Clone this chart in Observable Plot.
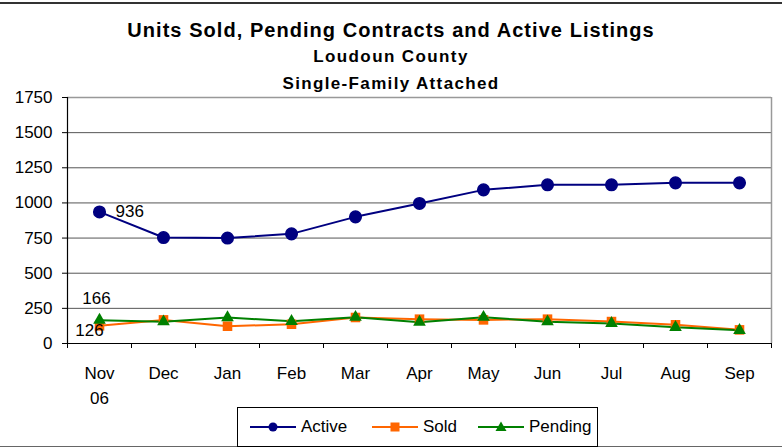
<!DOCTYPE html>
<html><head><meta charset="utf-8">
<script src="https://cdn.jsdelivr.net/npm/d3@7"></script>
<script src="https://cdn.jsdelivr.net/npm/@observablehq/plot@0.6"></script>
<style>
body{margin:0;background:#fff;font-family:"Liberation Sans",Arial,sans-serif;}
#wrap{position:relative;width:782px;height:447px;overflow:hidden;background:#fff;}
.t{position:absolute;left:0;width:782px;text-align:center;font-weight:bold;color:#000;white-space:nowrap;line-height:1;}
#t1{top:20px;font-size:20px;letter-spacing:1.05px;}
#t2{top:48px;font-size:17px;letter-spacing:1.4px;}
#t3{top:75px;font-size:17px;letter-spacing:1.35px;}
#chart{position:absolute;left:0;top:90px;}
#topline{position:absolute;left:0;top:2px;width:782px;height:2px;background:#333;}
#botline{position:absolute;left:0;top:446px;width:782px;height:1px;background:#666;}
#legend{position:absolute;left:237px;top:407px;width:359px;height:38px;border:1px solid #000;background:#fff;}
#legend .it{position:absolute;top:0;height:38px;display:flex;align-items:center;font-size:17px;color:#000;}
</style></head>
<body><div id="wrap">
<div id="topline"></div>
<div class="t" id="t1">Units Sold, Pending Contracts and Active Listings</div>
<div class="t" id="t2">Loudoun County</div>
<div class="t" id="t3">Single-Family Attached</div>
<div id="chart"></div>
<div id="botline"></div>
<div id="legend"></div>
</div>
<script>
const months = ["Nov","Dec","Jan","Feb","Mar","Apr","May","Jun","Jul","Aug","Sep"];
const monthLabels = ["Nov\n06","Dec","Jan","Feb","Mar","Apr","May","Jun","Jul","Aug","Sep"];
const active  = [936, 754, 750, 780, 901, 996, 1093, 1129, 1129, 1143, 1143];
const sold    = [126, 168, 123, 137, 185, 173, 168, 173, 156, 133, 97];
const pending = [166, 155, 185, 158, 187, 152, 187, 155, 143, 115, 94];
const yTicks  = [0, 250, 500, 750, 1000, 1250, 1500, 1750];
const seriesNames = ["Active", "Sold", "Pending"];
const colors = {Active: "#000080", Sold: "#FF6600", Pending: "#008000"};

const rows = (name, vals) => months.map((m, i) => ({month: m, value: vals[i], series: name}));
const dActive = rows("Active", active), dSold = rows("Sold", sold), dPending = rows("Pending", pending);

const W = 782, H = 315, mL = 67, mR = 11, mT = 7, mB = 62;
const half = (W - mL - mR) / months.length / 2;
const font = "'Liberation Sans', Arial, sans-serif";

const chart = Plot.plot({
  width: W, height: H,
  marginLeft: mL, marginRight: mR, marginTop: mT, marginBottom: mB,
  style: {fontFamily: font, fontSize: "17px", color: "#000", background: "transparent", overflow: "visible"},
  x: {type: "point", domain: months, padding: 0.5, label: null},
  y: {domain: [0, 1750], label: null},
  marks: [
    Plot.ruleY(yTicks, {stroke: "#555", strokeWidth: 1}),
    Plot.ruleX([months[months.length - 1]], {dx: half, stroke: "#999", strokeWidth: 1.5}),
    Plot.ruleY([1750], {stroke: "#999", strokeWidth: 1.5}),
    Plot.ruleY([0], {stroke: "#000", strokeWidth: 1.2}),
    Plot.ruleX([months[0]], {dx: -half, stroke: "#000", strokeWidth: 1.2}),
    Plot.ruleX(months, {dx: -half, stroke: "#000", insetTop: H - mT - mB, insetBottom: -5}),
    Plot.ruleX([months[months.length - 1]], {dx: half, stroke: "#000", insetTop: H - mT - mB, insetBottom: -5}),
    Plot.axisY({ticks: yTicks, tickSize: 5, tickPadding: 10, tickFormat: d => String(d), fontSize: 17, stroke: "#000", label: null}),
    Plot.axisX({tickSize: 0, tickPadding: 18, tickFormat: d => monthLabels[months.indexOf(d)], fontSize: 17, lineHeight: 1.47, lineAnchor: "top", label: null}),
    Plot.line(dActive, {x: "month", y: "value", stroke: colors.Active, strokeWidth: 2}),
    Plot.line(dSold, {x: "month", y: "value", stroke: colors.Sold, strokeWidth: 2}),
    Plot.line(dPending, {x: "month", y: "value", stroke: colors.Pending, strokeWidth: 2}),
    Plot.dot(dActive, {x: "month", y: "value", symbol: "circle", r: 5.8, fill: colors.Active, stroke: colors.Active}),
    Plot.dot(dSold, {x: "month", y: "value", symbol: "square", r: 5.4, fill: colors.Sold, stroke: "none"}),
    Plot.dot(dPending, {x: "month", y: "value", symbol: "triangle", r: 4.7, fill: colors.Pending, stroke: "none"}),
    Plot.text([dActive[0]], {x: "month", y: "value", text: d => String(d.value), textAnchor: "start", dx: 16, dy: 0, fontSize: 17, fill: "#000"}),
    Plot.text([dPending[0]], {x: "month", y: "value", text: d => String(d.value), dx: -3, dy: -22, fontSize: 17, fill: "#000"}),
    Plot.text([dSold[0]], {x: "month", y: "value", text: d => String(d.value), dx: -10, dy: 5, fontSize: 17, fill: "#000"})
  ]
});
document.getElementById("chart").appendChild(chart);

// legend
const legend = document.getElementById("legend");
const legendPos = {Active: 12, Sold: 134, Pending: 240};
const markerSvg = {
  Active: c => `<circle cx="23" cy="10" r="4.5" fill="${c}"/>`,
  Sold: c => `<rect x="18.5" y="5.5" width="9" height="9" fill="${c}"/>`,
  Pending: c => `<path d="M23,4.5 L28.5,14 L17.5,14 Z" fill="${c}"/>`
};
seriesNames.forEach(name => {
  const c = colors[name];
  const it = document.createElement("div");
  it.className = "it";
  it.style.left = legendPos[name] + "px";
  it.innerHTML = `<svg width="47" height="20" style="margin-right:4px"><line x1="0" x2="46" y1="10" y2="10" stroke="${c}" stroke-width="2"/>${markerSvg[name](c)}</svg><span>${name}</span>`;
  legend.appendChild(it);
});
</script>
</body></html>
